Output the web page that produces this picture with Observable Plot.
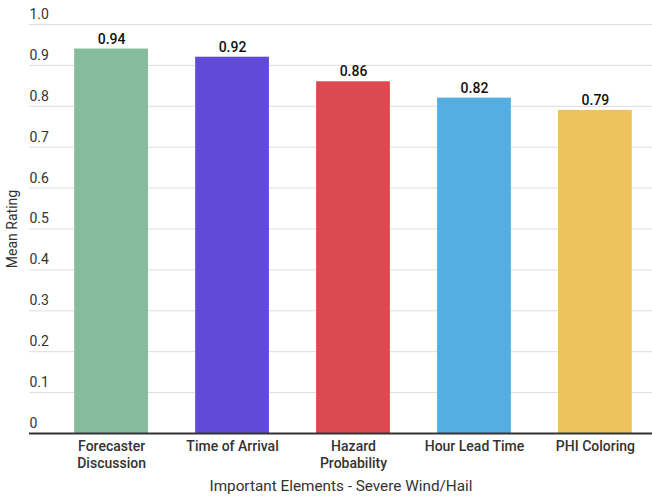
<!DOCTYPE html>
<html><head><meta charset="utf-8">
<script src="https://cdn.jsdelivr.net/npm/d3@7"></script>
<script src="https://cdn.jsdelivr.net/npm/@observablehq/plot@0.6"></script>
<style>body{margin:0;background:#fff;font-family:Roboto,sans-serif}</style>
</head><body><div id="chart"></div>
<script>
const categories = ["Forecaster\nDiscussion", "Time of Arrival", "Hazard\nProbability", "Hour Lead Time", "PHI Coloring"];
const values = [0.94, 0.92, 0.86, 0.82, 0.79];
const colors = ["#85bc9c", "#624ad8", "#da4a50", "#55aee2", "#eec35e"];
const yTicks = [0, 0.1, 0.2, 0.3, 0.4, 0.5, 0.6, 0.7, 0.8, 0.9, 1.0];
const data = categories.map((c, i) => ({cat: c, value: values[i], color: colors[i]}));

const chart = Plot.plot({
  width: 652, height: 497,
  marginLeft: 29, marginRight: 0, marginTop: 24, marginBottom: 64,
  style: {fontFamily: "Roboto, sans-serif", background: "#fff"},
  x: {domain: categories, range: [50, 656], paddingInner: 0.39, paddingOuter: 0.2, round: false},
  y: {domain: [0, 1]},
  marks: [
    Plot.ruleY(yTicks.slice(1), {stroke: "#dddddd", strokeWidth: 1}),
    Plot.barY(data, {x: "cat", y: "value", fill: "color"}),
    Plot.ruleY([0], {stroke: "#333", strokeWidth: 2}),
    Plot.text(data, {x: "cat", y: "value", text: d => d.value.toFixed(2), dy: -10, fontSize: 14, fontWeight: 500, fill: "#111"}),
    Plot.axisY({ticks: yTicks, tickFormat: d => d === 0 ? "0" : d.toFixed(1), tickSize: 0, tickPadding: 0, textAnchor: "start", dx: 0, dy: -10, fontSize: 14, fill: "#333", label: "Mean Rating", labelAnchor: "center", labelArrow: "none", labelOffset: 22}),
    Plot.axisX({tickSize: 0, tickPadding: 6, fontSize: 14, fontWeight: 500, fill: "#333", lineHeight: 1.2, label: null}),
    Plot.axisX({tickSize: 0, ticks: [], fontSize: 15.3, fill: "#333", label: "Important Elements - Severe Wind/Hail", labelAnchor: "center", labelArrow: "none", labelOffset: 57})
  ]
});
document.getElementById("chart").appendChild(chart);
</script>
</body></html>
